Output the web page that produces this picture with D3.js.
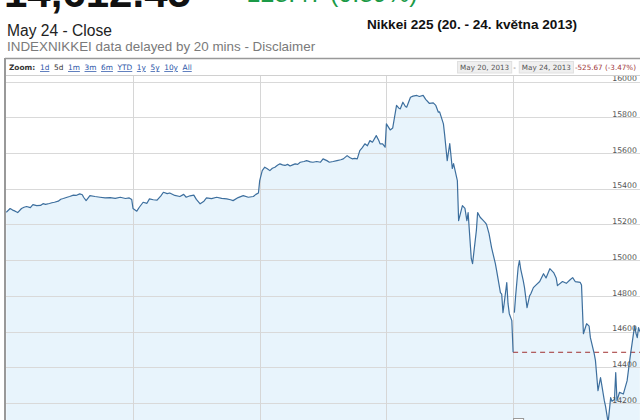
<!DOCTYPE html>
<html><head><meta charset="utf-8">
<script src="https://cdn.jsdelivr.net/npm/d3@7/dist/d3.min.js"></script>
<style>html,body{margin:0;padding:0;background:#fff;overflow:hidden}</style>
</head><body><svg id="c" width="640" height="420"></svg>
<script>
// ---- data ----
const lastPrice = "14,612.45";
const change = "+128.47 (0.89%)";
const closeLabel = "May 24 - Close";
const sourceLabel = "INDEXNIKKEI data delayed by 20 mins - Disclaimer";
const title = "Nikkei 225 (20. - 24. května 2013)";
const zoomLinks = ["1d","5d","1m","3m","6m","YTD","1y","5y","10y","All"];
const selectedZoom = "5d";
const rangeStart = "May 20, 2013";
const rangeEnd = "May 24, 2013";
const rangeChange = "-525.67 (-3.47%)";
const yTicks = [14200,14400,14600,14800,15000,15200,15400,15600,15800,16000];
const dayBreaks = [1,2,3,4];
const prevClose = 14483.98;
// [fraction of trading day, index value]
const may20 = [[0.00,15268],[0.03,15289],[0.05,15280],[0.07,15274],[0.09,15266],[0.12,15289],[0.14,15296],[0.16,15300],[0.19,15294],[0.21,15311],[0.24,15305],[0.27,15306],[0.29,15316],[0.31,15312],[0.34,15317],[0.36,15321],[0.38,15324],[0.41,15330],[0.43,15341],[0.45,15345],[0.48,15352],[0.50,15356],[0.53,15364],[0.55,15362],[0.58,15371],[0.60,15366],[0.61,15352],[0.63,15333],[0.66,15361],[0.70,15356],[0.74,15352],[0.78,15348],[0.82,15350],[0.86,15346],[0.90,15352],[0.94,15345],[0.97,15348],[0.99,15339]];
const may21 = [[0.00,15289],[0.03,15274],[0.05,15296],[0.08,15324],[0.11,15318],[0.13,15343],[0.16,15338],[0.19,15336],[0.22,15360],[0.24,15380],[0.27,15372],[0.29,15376],[0.33,15362],[0.37,15356],[0.40,15368],[0.42,15352],[0.45,15360],[0.48,15364],[0.50,15340],[0.53,15315],[0.56,15330],[0.58,15348],[0.62,15344],[0.66,15352],[0.70,15346],[0.74,15343],[0.77,15338],[0.79,15333],[0.83,15350],[0.87,15361],[0.91,15352],[0.95,15356],[0.97,15368],[0.99,15376]];
const may22 = [[0.00,15445],[0.02,15501],[0.04,15520],[0.06,15512],[0.08,15501],[0.10,15514],[0.12,15520],[0.14,15531],[0.16,15539],[0.18,15533],[0.20,15530],[0.22,15536],[0.24,15527],[0.26,15533],[0.28,15539],[0.30,15536],[0.32,15548],[0.35,15552],[0.37,15557],[0.40,15550],[0.42,15548],[0.45,15552],[0.48,15548],[0.50,15567],[0.53,15557],[0.55,15548],[0.58,15552],[0.61,15557],[0.64,15562],[0.66,15567],[0.69,15585],[0.71,15575],[0.73,15567],[0.75,15570],[0.77,15567],[0.79,15613],[0.81,15630],[0.83,15651],[0.85,15640],[0.87,15669],[0.89,15660],[0.92,15697],[0.94,15670],[0.95,15651],[0.97,15651],[0.99,15632]];
const may23 = [[0.00,15763],[0.03,15729],[0.05,15740],[0.08,15866],[0.10,15850],[0.11,15847],[0.13,15884],[0.15,15860],[0.16,15856],[0.19,15912],[0.21,15918],[0.24,15922],[0.26,15916],[0.29,15922],[0.31,15900],[0.34,15877],[0.37,15880],[0.39,15866],[0.41,15828],[0.42,15830],[0.45,15763],[0.46,15700],[0.48,15557],[0.50,15652],[0.52,15513],[0.53,15540],[0.56,15445],[0.57,15221],[0.60,15305],[0.62,15290],[0.635,15221],[0.645,15266],[0.67,15008],[0.68,14980],[0.71,15165],[0.72,15266],[0.74,15240],[0.76,15225],[0.78,15210],[0.79,15200],[0.81,15148],[0.83,15070],[0.86,14980],[0.87,14941],[0.90,14818],[0.91,14810],[0.92,14706],[0.93,14760],[0.95,14874],[0.96,14756],[0.97,14700],[0.99,14661],[1.00,14484]];
const may24 = [[0.01,14706],[0.02,14800],[0.04,14960],[0.05,14997],[0.06,14950],[0.08,14885],[0.09,14846],[0.11,14734],[0.13,14800],[0.14,14812],[0.16,14846],[0.18,14860],[0.21,14880],[0.24,14924],[0.26,14900],[0.29,14952],[0.32,14930],[0.34,14900],[0.35,14857],[0.39,14880],[0.42,14870],[0.45,14890],[0.47,14902],[0.49,14880],[0.53,14875],[0.54,14860],[0.555,14588],[0.58,14644],[0.60,14630],[0.61,14566],[0.64,14476],[0.65,14437],[0.67,14269],[0.69,14342],[0.70,14300],[0.72,14213],[0.73,14180],[0.75,14090],[0.77,14230],[0.78,14210],[0.80,14220],[0.81,14370],[0.82,14213],[0.84,14260],[0.87,14250],[0.90,14325],[0.92,14437],[0.95,14588],[0.96,14630],[0.97,14590],[0.98,14566],[0.99,14622],[1.00,14600]];

// ---- drawing ----
const svg = d3.select("#c");
const W = 640, H = 420;
const sans = "Arial, 'Liberation Sans', sans-serif";
const verd = "'DejaVu Sans', Verdana, sans-serif";

svg.append("rect").attr("width",W).attr("height",H).attr("fill","#fff");

// header (top lines are cropped in the original screenshot)
svg.append("text").attr("x",4).attr("y",6.5).attr("font-family",sans).attr("font-weight","bold")
  .attr("font-size",42).attr("fill","#111").text(lastPrice);
svg.append("text").attr("x",232).attr("y",2).attr("font-family",sans)
  .attr("font-size",25).attr("fill","#1b9a47").text(change);
svg.append("text").attr("x",7).attr("y",36).attr("font-family",sans)
  .attr("font-size",15.6).attr("fill","#222").text(closeLabel);
svg.append("text").attr("x",7).attr("y",50.5).attr("font-family",sans)
  .attr("font-size",13.4).attr("fill","#7a7a7a").text(sourceLabel);
svg.append("text").attr("x",472).attr("y",29).attr("text-anchor","middle").attr("font-family",sans)
  .attr("font-weight","bold").attr("font-size",13.6).attr("fill","#111").text(title);

// chart frame
const plotTop = 75.5, plotLeft = 6;
const x = d3.scaleLinear().domain([0,5]).range([6.3,639.8]);
const y = d3.scaleLinear().domain([14200,16000]).range([403,81.5]);

svg.append("defs").append("clipPath").attr("id","clip")
  .append("rect").attr("x",plotLeft).attr("y",plotTop).attr("width",W-plotLeft).attr("height",H-plotTop);

const plot = svg.append("g").attr("clip-path","url(#clip)");

const seg1 = [];
[may20,may21,may22,may23].forEach((d,i)=>d.forEach(p=>seg1.push([i+p[0],p[1]])));
const seg2 = may24.map(p=>[4+p[0],p[1]]);
const all = seg1.concat(seg2);

// fill
const area = d3.area().x(d=>x(d[0])).y0(H+10).y1(d=>y(d[1]));
plot.append("path").datum(all).attr("d",area).attr("fill","#e8f4fc");

// grid
const gy = d3.axisLeft(y).tickValues(yTicks).tickSize(W-plotLeft).tickFormat("");
const gG = plot.append("g").attr("transform",`translate(${W},0)`).call(gy);
gG.select(".domain").remove();
gG.selectAll("line").attr("stroke","#d9d9d9").attr("stroke-width",1).attr("shape-rendering","crispEdges");
const gx = d3.axisTop(x).tickValues(dayBreaks).tickSize(-(H-plotTop)).tickFormat("");
const gxG = plot.append("g").attr("transform",`translate(0,${plotTop})`).call(gx);
gxG.select(".domain").remove();
gxG.selectAll("line").attr("stroke","#d6d6d6").attr("stroke-width",1).attr("shape-rendering","crispEdges");

// y labels (sit just above their gridlines)
const ly = d3.axisLeft(y).tickValues(yTicks).tickSize(0).tickPadding(0).tickFormat(d3.format("d"));
const lG = svg.append("g").attr("transform","translate(637,0)").call(ly);
lG.select(".domain").remove();
lG.selectAll("text").attr("font-family",verd).attr("font-size",7.8).attr("fill","#555")
  .attr("dy","-0.1em").attr("text-anchor","end");

// previous close dashed line
plot.append("line").attr("x1",x(4)).attr("x2",W).attr("y1",y(prevClose)).attr("y2",y(prevClose))
  .attr("stroke","#a0302f").attr("stroke-width",1).attr("stroke-dasharray","5,4");

// line
const line = d3.line().x(d=>x(d[0])).y(d=>y(d[1]));
[seg1,seg2].forEach(s=>plot.append("path").datum(s).attr("d",line).attr("fill","none")
  .attr("stroke","#3d6f9e").attr("stroke-width",1.2).attr("stroke-linejoin","round"));

// annotation flag box at bottom
plot.append("rect").attr("x",x(4)+0.5).attr("y",418.5).attr("width",10).attr("height",10)
  .attr("fill","#fff").attr("stroke","#999");

// frame borders and zoom bar
svg.append("rect").attr("x",plotLeft).attr("y",58.5).attr("width",W-plotLeft).attr("height",plotTop-58.5)
  .attr("fill","#fff");
svg.append("line").attr("x1",plotLeft-1).attr("x2",W).attr("y1",58.5).attr("y2",58.5).attr("stroke","#999").attr("stroke-width",1.5);
svg.append("line").attr("x1",plotLeft).attr("x2",W).attr("y1",plotTop).attr("y2",plotTop).attr("stroke","#d0d0d0").attr("stroke-width",1);
svg.append("line").attr("x1",5).attr("x2",5).attr("y1",58).attr("y2",H).attr("stroke","#999").attr("stroke-width",2);

const zb = svg.append("g");
zb.append("text").attr("x",9).attr("y",70).attr("font-family",verd).attr("font-weight","bold")
  .attr("font-size",7.4).attr("fill","#333").text("Zoom:");
let cx = 40;
zoomLinks.forEach(z=>{
  const t = zb.append("text").attr("x",cx).attr("y",70).attr("font-family",verd).attr("font-size",7.4)
    .attr("fill", z===selectedZoom ? "#333" : "#2a55a8")
    .attr("text-decoration", z===selectedZoom ? "none" : "underline").text(z);
  cx += t.node().getComputedTextLength() + 4.6;
});

// right: date range
let rx = 636;
function rtext(str, color, boxed){
  const t = zb.append("text").attr("y",70).attr("font-family",verd).attr("font-size",7.2).attr("fill",color).text(str);
  const w = t.node().getComputedTextLength();
  t.attr("x", rx - w);
  if (boxed){
    zb.insert("rect","text").attr("x",rx-w-2.5).attr("y",61.5).attr("width",w+5).attr("height",11.5)
      .attr("fill","#efefef").attr("stroke","#e0e0e0");
  }
  rx -= w + (boxed ? 6 : 4);
}
rtext(rangeChange,"#a0363a",false);
rtext(rangeEnd,"#555",true);
rtext("-","#555",false);
rtext(rangeStart,"#555",true);
</script></body></html>
